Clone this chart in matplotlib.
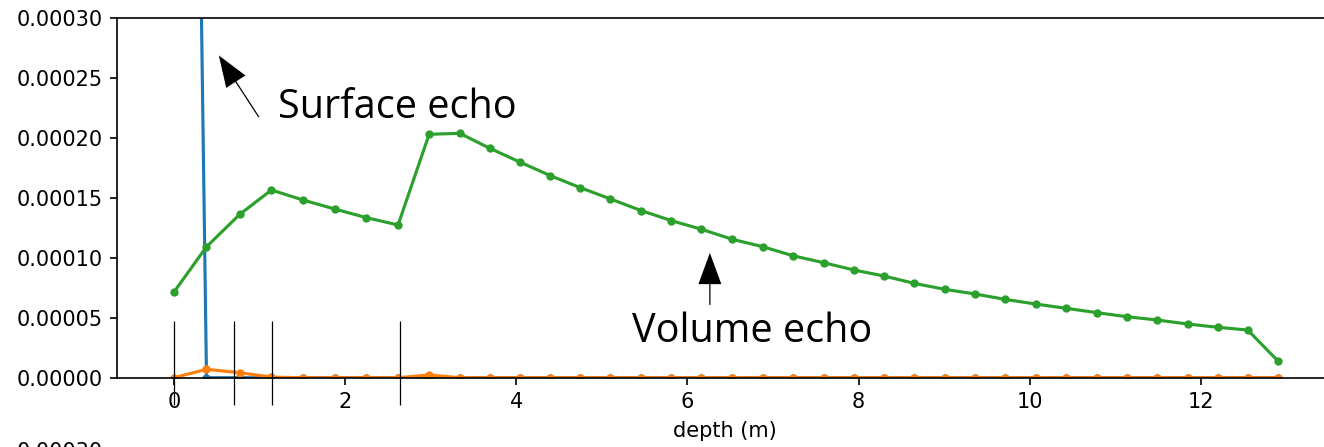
import numpy as np
import matplotlib
matplotlib.use("Agg")
import matplotlib.pyplot as plt

# depth of each layer (m)
depth = [0.0, 0.382, 0.771, 1.141, 1.511, 1.881, 2.251, 2.620, 2.983, 3.341,
         3.692, 4.050, 4.401, 4.751, 5.102, 5.464, 5.814, 6.165, 6.527, 6.884,
         7.235, 7.593, 7.947, 8.298, 8.648, 9.007, 9.361, 9.711, 10.070, 10.429,
         10.786, 11.137, 11.487, 11.846, 12.196, 12.547, 12.897]

surface = [0.00196] + [0.0] * 36

interface = [0.0, 7.0e-6, 4.2e-6, 0.5e-6, 0.0, 0.0, 0.0, 0.0, 2.3e-6] + [0.0] * 28

volume = [7.13e-5, 1.093e-4, 1.364e-4, 1.567e-4, 1.483e-4, 1.408e-4, 1.336e-4,
          1.275e-4, 2.032e-4, 2.040e-4, 1.915e-4, 1.798e-4, 1.686e-4, 1.586e-4,
          1.492e-4, 1.394e-4, 1.311e-4, 1.239e-4, 1.155e-4, 1.093e-4, 1.018e-4,
          9.60e-5, 8.99e-5, 8.49e-5, 7.88e-5, 7.38e-5, 6.99e-5, 6.54e-5, 6.15e-5,
          5.79e-5, 5.43e-5, 5.09e-5, 4.82e-5, 4.48e-5, 4.21e-5, 3.98e-5, 1.42e-5]

# layer boundaries
layers = [0.0, 0.70, 1.148, 2.647]

fig = plt.figure(figsize=(1324 / 150, 447 / 150), dpi=150)
ax1 = fig.add_axes([0.0886, 0.155, 0.918, 0.804])

ax1.plot(depth, surface, '.-')
ax1.plot(depth, interface, '.-')
ax1.plot(depth, volume, '.-')
ax1.vlines(layers, -2.3e-5, 4.75e-5, colors='black', linewidth=0.6, clip_on=False)

ax1.set_ylim(0, 0.0003)
ax1.set_xlim(-0.66, 13.54)
ax1.set_xlabel('depth (m)')

afont = 'Open Sans'
arr = dict(facecolor='black', edgecolor='none', width=0.6, headwidth=11, headlength=15, shrink=0)
ax1.annotate('', xy=(0.526, 0.000269), xytext=(0.994, 0.0002175), arrowprops=arr)
ax1.text(1.216, 0.0002167, 'Surface echo', fontsize=19, family=afont, va='baseline')
ax1.annotate('', xy=(6.263, 0.0001042), xytext=(6.263, 0.0000608), arrowprops=arr)
ax1.text(5.357, 0.00003, 'Volume echo', fontsize=19, family=afont, va='baseline')

# second panel, only its top label shows
ax2 = fig.add_axes([0.0886, -0.81, 0.918, 0.804])
ax2.set_ylim(0, 0.0003)
ax2.set_xlim(-0.66, 13.54)
ax2.tick_params(labelbottom=False)

plt.savefig("out.png", dpi=150)
